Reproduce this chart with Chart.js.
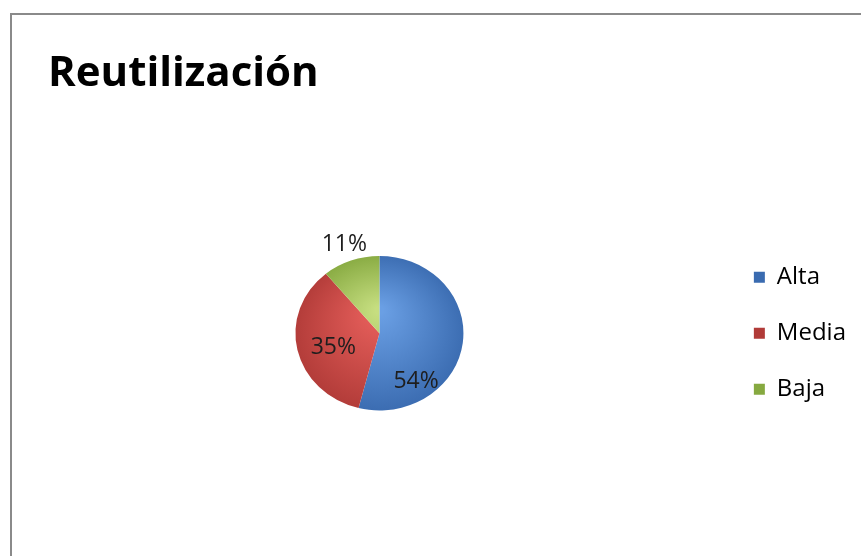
<!DOCTYPE html>
<html>
<head>
<meta charset="utf-8">
<script src="https://cdn.jsdelivr.net/npm/chart.js@4.4.1/dist/chart.umd.min.js"></script>
<style>
  html, body { margin: 0; padding: 0; background: #fff; }
  .wrap { position: relative; width: 861px; height: 556px; overflow: hidden; }
  .frame { position: absolute; left: 10px; top: 13px; width: 900px; height: 600px;
           border: 2px solid #8a8a8a; box-sizing: border-box; }
  .box { position: absolute; left: 0; top: 0; width: 861px; height: 556px; }
</style>
</head>
<body>
<div class="wrap">
  <div class="frame"></div>
  <div class="box"><canvas id="chart"></canvas></div>
</div>
<script>
// Reutilización share by level
const categories = ['Alta', 'Media', 'Baja'];
const shares     = [54, 35, 11];

// fill colours: light centre -> darker rim
const innerColors = ['#6a9fe4', '#e8605c', '#c6de80'];
const outerColors = ['#3a6bb0', '#b13b38', '#86a940'];

// where each percent label sits: angle (deg, clockwise from top) and radius fraction
const labelAngle  = [145, 251, 340];
const labelRadius = [0.76, 0.58, 1.22];

const SQUASH = 0.92;        // pie is drawn a bit flatter than a circle
const LEGEND_NUDGE = 11;    // push legend right without moving the pie
const FONT = '"Open Sans", Lato, sans-serif';

const squashPlugin = {
  id: 'squash',
  beforeDatasetsDraw(chart) {
    const arc = chart.getDatasetMeta(0).data[0];
    if (!arc) return;
    const c = chart.ctx;
    c.save();
    c.translate(arc.x, arc.y);
    c.scale(1, SQUASH);
    c.translate(-arc.x, -arc.y);
  },
  afterDatasetsDraw(chart) {
    chart.ctx.restore();
  }
};

const pctLabels = {
  id: 'pctLabels',
  afterDatasetsDraw(chart) {
    const c = chart.ctx;
    const arcs = chart.getDatasetMeta(0).data;
    c.save();
    c.font = '23px ' + FONT;
    c.fillStyle = '#1e1e1e';
    c.textAlign = 'center';
    c.textBaseline = 'middle';
    arcs.forEach((arc, i) => {
      const a = labelAngle[i] * Math.PI / 180;
      const r = arc.outerRadius * labelRadius[i];
      const x = arc.x + Math.sin(a) * r;
      const y = arc.y - Math.cos(a) * r * SQUASH;
      c.fillText(shares[i] + '%', x, y);
    });
    c.restore();
  }
};

const legendNudge = {
  id: 'legendNudge',
  afterLayout(chart) {
    chart.legend.left += LEGEND_NUDGE;
    chart.legend.right += LEGEND_NUDGE;
  }
};

const ctx = document.getElementById('chart').getContext('2d');
const chart = new Chart(ctx, {
  type: 'pie',
  data: {
    labels: categories,
    datasets: [{
      data: shares,
      radius: 84,
      borderWidth: 0,
      backgroundColor(context) {
        const i = context.dataIndex;
        const area = context.chart.chartArea;
        if (!area) return outerColors[i];
        const cx = (area.left + area.right) / 2;
        const cy = (area.top + area.bottom) / 2;
        const g = context.chart.ctx.createRadialGradient(cx, cy - 25, 4, cx, cy, 88);
        g.addColorStop(0, innerColors[i]);
        g.addColorStop(1, outerColors[i]);
        return g;
      }
    }]
  },
  options: {
    responsive: true,
    maintainAspectRatio: false,
    animation: false,
    layout: { padding: { left: 48, right: 16, top: 0, bottom: 0 } },
    plugins: {
      tooltip: { enabled: false },
      title: {
        display: true,
        text: 'Reutilización',
        align: 'start',
        color: '#000',
        font: { family: FONT, size: 42, weight: 'bold' },
        padding: { top: 49, bottom: 11 }
      },
      legend: {
        position: 'right',
        fullSize: false,
        labels: {
          color: '#1e1e1e',
          font: { family: FONT, size: 24 },
          boxWidth: 11,
          boxHeight: 11,
          padding: 32,
          generateLabels() {
            return categories.map((name, i) => ({
              text: name,
              fillStyle: outerColors[i],
              strokeStyle: outerColors[i],
              lineWidth: 0,
              index: i
            }));
          }
        }
      }
    }
  },
  plugins: [squashPlugin, pctLabels, legendNudge]
});
</script>
</body>
</html>
